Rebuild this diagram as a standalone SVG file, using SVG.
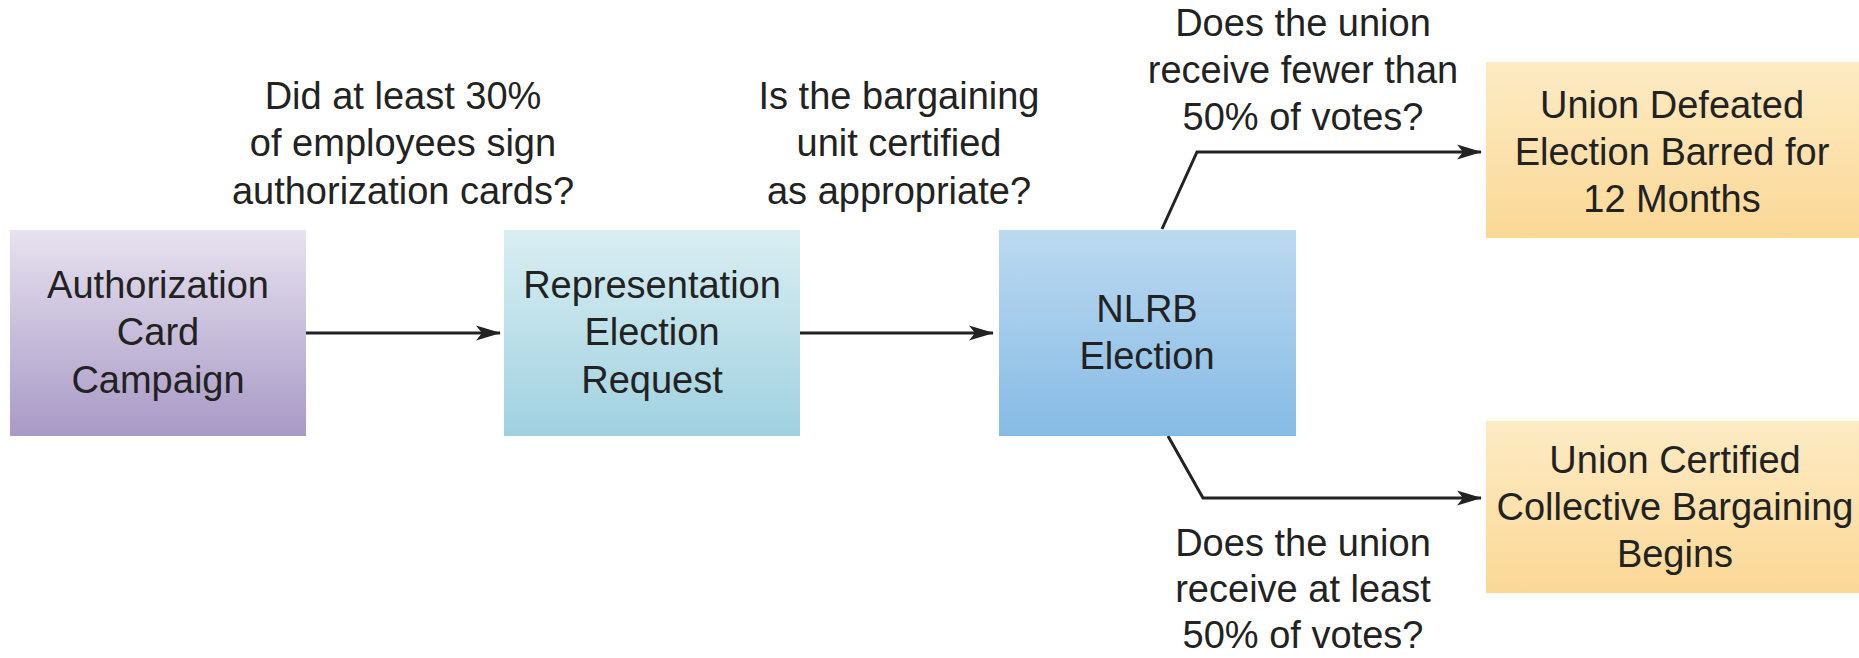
<svg xmlns="http://www.w3.org/2000/svg" width="1859" height="658" viewBox="0 0 1859 658">
  <defs>
    <linearGradient id="gPurple" x1="0" y1="0" x2="0" y2="1">
      <stop offset="0" stop-color="#e7e2ef"/>
      <stop offset="1" stop-color="#a899c6"/>
    </linearGradient>
    <linearGradient id="gTeal" x1="0" y1="0" x2="0" y2="1">
      <stop offset="0" stop-color="#d9eef2"/>
      <stop offset="1" stop-color="#a0d1e0"/>
    </linearGradient>
    <linearGradient id="gBlue" x1="0" y1="0" x2="0" y2="1">
      <stop offset="0" stop-color="#bcd9f0"/>
      <stop offset="1" stop-color="#86bbe5"/>
    </linearGradient>
    <linearGradient id="gOrange" x1="0" y1="0" x2="0" y2="1">
      <stop offset="0" stop-color="#fdebc4"/>
      <stop offset="1" stop-color="#fbd896"/>
    </linearGradient>
    <marker id="arrow" markerWidth="26" markerHeight="16" refX="24" refY="8" orient="auto" markerUnits="userSpaceOnUse">
      <path d="M0,0.5 L25,8 L0,15.5 L6,8 Z" fill="#222"/>
    </marker>
  </defs>
  <style>
    text { font-family: "Liberation Sans", Arial, sans-serif; font-size: 38px; fill: #222222; text-anchor: middle; }
    .conn { fill: none; stroke: #222222; stroke-width: 3; marker-end: url(#arrow); }
  </style>
  <rect width="1859" height="658" fill="#ffffff"/>

  <g id="connectors">
    <line class="conn" x1="306" y1="333" x2="500" y2="333"/>
    <line class="conn" x1="800" y1="333" x2="993" y2="333"/>
    <polyline class="conn" points="1162,229 1197,152 1481,152"/>
    <polyline class="conn" points="1168,436 1203,498 1481,498"/>
  </g>

  <g id="label-30pct">
    <text x="403" y="109">Did at least 30%</text>
    <text x="403" y="156">of employees sign</text>
    <text x="403" y="204">authorization cards?</text>
  </g>
  <g id="label-unit">
    <text x="899" y="109">Is the bargaining</text>
    <text x="899" y="156">unit certified</text>
    <text x="899" y="204">as appropriate?</text>
  </g>
  <g id="label-fewer">
    <text x="1303" y="36">Does the union</text>
    <text x="1303" y="83">receive fewer than</text>
    <text x="1303" y="130">50% of votes?</text>
  </g>
  <g id="label-atleast">
    <text x="1303" y="556">Does the union</text>
    <text x="1303" y="602">receive at least</text>
    <text x="1303" y="648">50% of votes?</text>
  </g>

  <g id="node-authorization">
    <rect x="10" y="230" width="296" height="206" fill="url(#gPurple)"/>
    <text x="158" y="298">Authorization</text>
    <text x="158" y="345">Card</text>
    <text x="158" y="393">Campaign</text>
  </g>
  <g id="node-request">
    <rect x="504" y="230" width="296" height="206" fill="url(#gTeal)"/>
    <text x="652" y="298">Representation</text>
    <text x="652" y="345">Election</text>
    <text x="652" y="393">Request</text>
  </g>
  <g id="node-nlrb">
    <rect x="999" y="230" width="297" height="206" fill="url(#gBlue)"/>
    <text x="1147" y="322">NLRB</text>
    <text x="1147" y="369">Election</text>
  </g>
  <g id="node-defeated">
    <rect x="1486" y="62" width="373" height="176" fill="url(#gOrange)"/>
    <text x="1672" y="118">Union Defeated</text>
    <text x="1672" y="165">Election Barred for</text>
    <text x="1672" y="212">12 Months</text>
  </g>
  <g id="node-certified">
    <rect x="1486" y="421" width="373" height="172" fill="url(#gOrange)"/>
    <text x="1675" y="473">Union Certified</text>
    <text x="1675" y="520">Collective Bargaining</text>
    <text x="1675" y="567">Begins</text>
  </g>
</svg>
